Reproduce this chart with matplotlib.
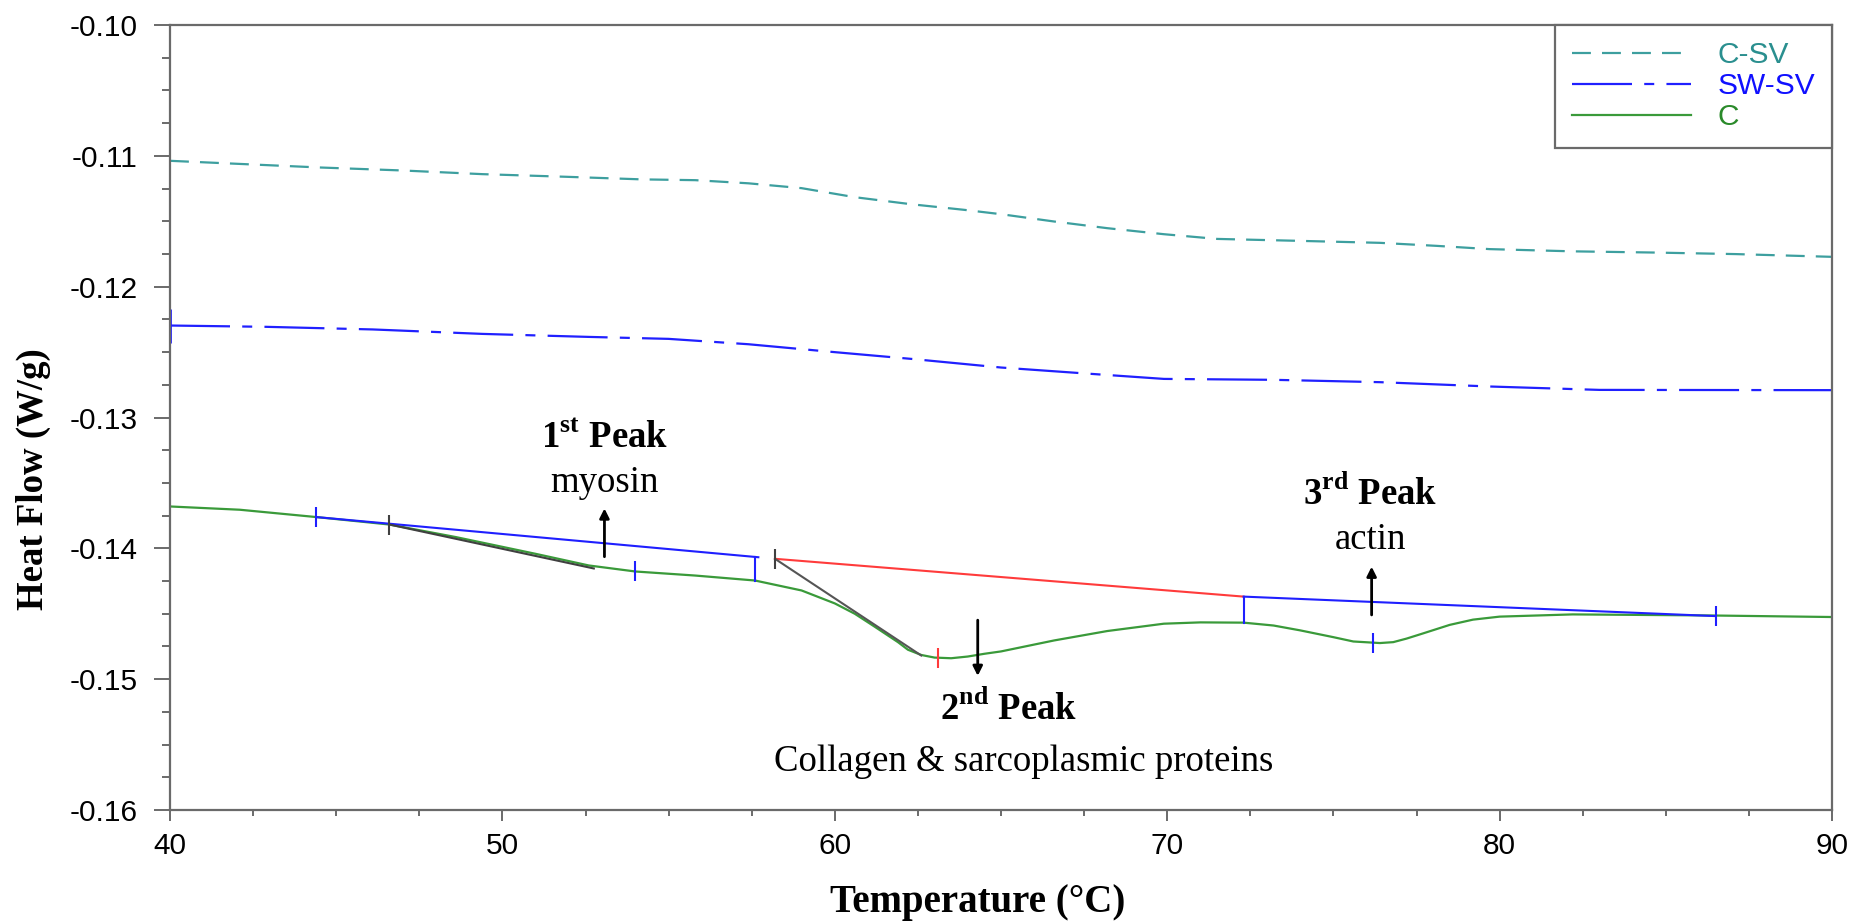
import matplotlib
matplotlib.use("Agg")
import matplotlib.pyplot as plt

plt.rcParams['font.family'] = ['Liberation Sans', 'DejaVu Sans']
plt.rcParams['axes.unicode_minus'] = False
plt.rcParams['mathtext.fontset'] = 'custom'
plt.rcParams['mathtext.rm'] = 'Liberation Serif'
plt.rcParams['mathtext.bf'] = 'Liberation Serif:bold'

SERIF = ['Liberation Serif', 'DejaVu Serif']

# --- DSC curves ---
temp_csv = [40.0, 44.5, 47.0, 49.4, 51.9, 54.2, 55.8, 57.4, 59.0, 60.6, 62.3, 63.9, 65.0,
            66.6, 68.2, 69.9, 71.5, 74.0, 76.4, 78.1, 79.7, 82.2, 84.6, 87.1, 90.0]
hf_csv = [-0.11038, -0.11089, -0.11112, -0.11140, -0.11160, -0.11180, -0.11186, -0.11210,
          -0.11247, -0.11316, -0.11370, -0.11413, -0.11446, -0.11502, -0.11553, -0.11599,
          -0.11635, -0.11650, -0.11665, -0.11688, -0.11713, -0.11730, -0.11739, -0.11751,
          -0.11772]

temp_swsv = [40.0, 42.9, 46.1, 49.4, 52.6, 55.0, 57.4, 59.8, 62.3, 65.0, 67.4, 69.9, 73.2,
             76.4, 79.7, 83.0, 90.0]
hf_swsv = [-0.12297, -0.12307, -0.12327, -0.12361, -0.12384, -0.12399, -0.12440, -0.12496,
           -0.12552, -0.12618, -0.12661, -0.12705, -0.12712, -0.12730, -0.12763, -0.12789,
           -0.12791]

temp_c = [40.0, 42.1, 44.4, 46.6, 48.6, 51.0, 52.6, 54.0, 55.8, 57.6,
          59.0, 60.0, 60.6, 61.2, 61.9, 62.2, 62.6, 63.0, 63.5, 64.0,
          64.5, 65.0, 66.6, 68.2, 69.9, 71.0, 72.3, 73.2, 74.0, 75.0,
          75.6, 76.4, 76.8, 77.2, 77.7, 78.5, 79.2, 80.0, 82.2, 86.3, 90.0]
hf_c = [-0.13680, -0.13705, -0.13761, -0.13818, -0.13914, -0.14042, -0.14131, -0.14177, -0.14208, -0.14246,
        -0.14322, -0.14421, -0.14500, -0.14599, -0.14717, -0.14775, -0.14815, -0.14835, -0.14840, -0.14827,
        -0.14806, -0.14788, -0.14704, -0.14632, -0.14576, -0.14566, -0.14568, -0.14590, -0.14627, -0.14679,
        -0.14712, -0.14724, -0.14717, -0.14690, -0.14650, -0.14585, -0.14545, -0.14522, -0.14505, -0.14513,
        -0.14525]

# --- peak analysis lines (baselines / tangents) ---
seg_x = [(44.4, 57.7), (46.6, 52.75), (58.2, 72.3), (58.2, 62.6), (72.3, 86.5),
         (57.6, 57.6), (72.3, 72.3)]
seg_y = [(-0.13761, -0.14068), (-0.13818, -0.14154), (-0.14080, -0.14369), (-0.14080, -0.14819),
         (-0.14369, -0.14518), (-0.14068, -0.14246), (-0.14369, -0.14568)]
seg_color = ['#1f1fff', '#404040', '#ff3b3b', '#555555', '#1f1fff', '#1f1fff', '#1f1fff']

mark_x = [44.4, 54.0, 76.2, 86.5, 46.6, 58.2, 63.1]
mark_y = [-0.13761, -0.14177, -0.14724, -0.14518, -0.13818, -0.14080, -0.14840]
mark_color = ['#1f1fff', '#1f1fff', '#1f1fff', '#1f1fff', '#404040', '#404040', '#ff3b3b']

# --- annotations ---
arrow_x = [53.07, 64.3, 76.15]
arrow_tail = [-0.14064, -0.14549, -0.14509]
arrow_head = [-0.13695, -0.14975, -0.14140]

peak_labels = [r'1$^{\mathbf{st}}$ Peak', r'2$^{\mathbf{nd}}$ Peak', r'3$^{\mathbf{rd}}$ Peak']
peak_x = [53.07, 65.24, 76.1]
peak_y = [-0.13235, -0.15312, -0.13668]
protein_labels = ['myosin', 'Collagen & sarcoplasmic proteins', 'actin']
protein_x = [53.07, 65.68, 76.1]
protein_y = [-0.13566, -0.15702, -0.14005]

fig = plt.figure(figsize=(18.54, 9.22), dpi=100)
ax = fig.add_axes([170 / 1854, 1 - 810 / 922, 1662 / 1854, 785 / 922])

lw = 1.6
ax.plot(temp_csv, hf_csv, color='#3d9f9f', lw=lw, linestyle=(0, (8.5, 5)), label='C-SV')
ax.plot(temp_swsv, hf_swsv, color='#2020ff', lw=lw, linestyle=(0, (27, 5.5, 4.5, 5.5)), label='SW-SV')
ax.plot(temp_c, hf_c, color='#3a9a3a', lw=lw, label='C')

for (x0, x1), (y0, y1), col in zip(seg_x, seg_y, seg_color):
    ax.plot([x0, x1], [y0, y1], color=col, lw=1.5)
for x, y, col in zip(mark_x, mark_y, mark_color):
    ax.plot([x], [y], marker='|', ms=15, mew=1.5, color=col)
# start marker of SW-SV curve
ax.plot([temp_swsv[0]], [hf_swsv[0]], marker='|', ms=25, mew=2, color='#2020ff', clip_on=False)

for x, yt, yh in zip(arrow_x, arrow_tail, arrow_head):
    ax.annotate('', xy=(x, yh), xytext=(x, yt),
                arrowprops=dict(arrowstyle='-|>', color='black', lw=2, mutation_scale=14,
                                shrinkA=0, shrinkB=0))

for s, x, y in zip(peak_labels, peak_x, peak_y):
    ax.text(x, y, s, ha='center', va='baseline', fontsize=26.5, fontweight='bold', family=SERIF)
for s, x, y in zip(protein_labels, protein_x, protein_y):
    ax.text(x, y, s, ha='center', va='baseline', fontsize=26.5, family=SERIF)

ax.set_xlim(40, 90)
ax.set_ylim(-0.16, -0.10)
ax.set_xticks([40, 50, 60, 70, 80, 90])
ax.set_xticks([40 + 2.5 * i for i in range(21)], minor=True)
ax.set_yticks([-0.16, -0.15, -0.14, -0.13, -0.12, -0.11, -0.10])
ax.set_yticks([-0.16 + 0.0025 * i for i in range(25)], minor=True)
ax.yaxis.set_major_formatter(matplotlib.ticker.FormatStrFormatter('%.2f'))

spine_col = '#6a6a6a'
for sp in ax.spines.values():
    sp.set_color(spine_col)
    sp.set_linewidth(1.6)
ax.tick_params(axis='both', which='both', direction='out', color=spine_col, width=1.4,
               labelsize=21.5)
ax.tick_params(axis='x', which='major', length=8, pad=8)
ax.tick_params(axis='x', which='minor', length=4)
ax.tick_params(axis='y', which='major', length=11.5, pad=12)
ax.tick_params(axis='y', which='minor', length=6)

ax.set_xlabel('Temperature (°C)', fontsize=28, fontweight='bold', family=SERIF, va='center')
ax.xaxis.set_label_coords((978 - 170) / 1662, -(902 - 810) / 785)
ax.set_ylabel('Heat Flow (W/g)', fontsize=26.5, fontweight='bold', family=SERIF, va='center')
ax.yaxis.set_label_coords((33 - 170) / 1662, 1 - (479 - 25) / 785)

leg = ax.legend(loc='upper right', borderaxespad=0, fancybox=False, edgecolor='#6a6a6a',
                fontsize=21.5, handlelength=4.0, handletextpad=0.9, labelspacing=0.1,
                borderpad=0.55, framealpha=1)
leg.get_frame().set_linewidth(1.6)
for txt, col in zip(leg.get_texts(), ['#2a8f8f', '#1010ff', '#2a8a2a']):
    txt.set_color(col)

fig.savefig('out.png', dpi=100)
